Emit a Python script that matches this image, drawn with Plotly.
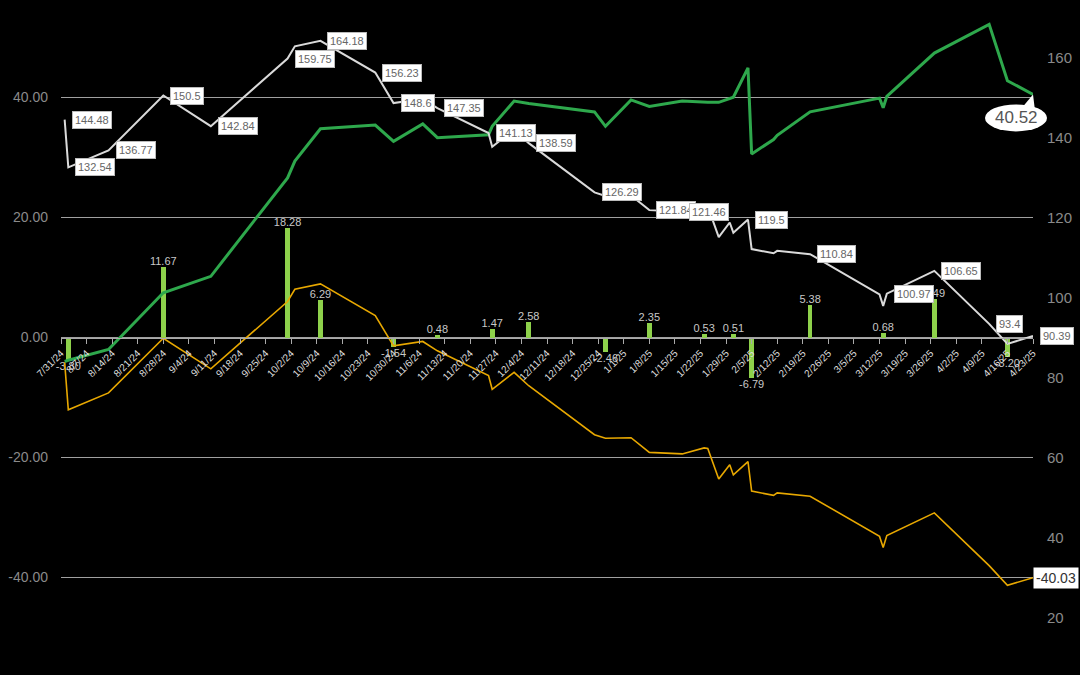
import plotly.graph_objects as go
import pandas as pd

# ---------------- data ----------------
dates = ["2024-08-01", "2024-08-02", "2024-08-13", "2024-08-28", "2024-09-10",
         "2024-10-01", "2024-10-03", "2024-10-10", "2024-10-25", "2024-10-30",
         "2024-11-07", "2024-11-11", "2024-11-25", "2024-11-26", "2024-12-02",
         "2024-12-06", "2024-12-24", "2024-12-27", "2025-01-03", "2025-01-08",
         "2025-01-17", "2025-01-23", "2025-01-24", "2025-01-27", "2025-01-30",
         "2025-01-31", "2025-02-04", "2025-02-05", "2025-02-11", "2025-02-12",
         "2025-02-21", "2025-03-12", "2025-03-13", "2025-03-14", "2025-03-27",
         "2025-04-11", "2025-04-16", "2025-04-23"]

price = [144.48, 132.54, 136.77, 150.5, 142.84, 159.75, 162.8, 164.18, 156.23, 148.6,
         149.7, 147.35, 141.13, 137.7, 141.96, 138.59, 126.29, 125.4, 125.5, 121.84,
         121.46, 122.97, 122.8, 115.1, 118.75, 116.2, 119.5, 112.1, 111.07, 111.67,
         110.84, 100.75, 97.9, 100.97, 106.65, 93.4, 88.4, 90.39]

cumulative = [-4.0, -3.8, -2.0, 7.45, 10.2, 26.6, 29.4, 34.8, 35.4, 32.7,
              35.6, 33.3, 33.8, 35.2, 39.4, 39.0, 37.6, 35.2, 39.6, 38.5,
              39.4, 39.2, 39.2, 39.2, 39.8, 40.05, 44.95, 30.6, 33.0, 33.7,
              37.6, 39.9, 38.3, 40.2, 47.4, 52.2, 42.8, 40.52]

drawdown = [-4.13, -12.05, -9.24, -0.13, -5.22, 6.0, 8.03, 8.94, 3.67, -1.39,
            -0.66, -2.22, -6.35, -8.63, -5.80, -8.04, -16.2, -16.8, -16.7, -19.15,
            -19.4, -18.4, -18.51, -23.6, -21.2, -22.9, -20.7, -25.6, -26.3, -25.9,
            -26.45, -33.15, -35.0, -33.0, -29.23, -38.02, -41.3, -40.03]

bar_dates = ["2024-08-02", "2024-08-28", "2024-10-01", "2024-10-10", "2024-10-30",
             "2024-11-11", "2024-11-26", "2024-12-06", "2024-12-27", "2025-01-08",
             "2025-01-23", "2025-01-31", "2025-02-05", "2025-02-21", "2025-03-13",
             "2025-03-27", "2025-04-16"]
bar_values = [-3.80, 11.67, 18.28, 6.29, -1.54, 0.48, 1.47, 2.58, -2.46, 2.35,
              0.53, 0.51, -6.79, 5.38, 0.68, 6.49, -3.20]

price_label_idx = [0, 1, 2, 3, 4, 5, 7, 8, 9, 11, 12, 15, 16, 19, 20, 26, 30, 33, 34, 35, 37]

tick_labels = ["7/31/24", "8/7/24", "8/14/24", "8/21/24", "8/28/24", "9/4/24", "9/11/24",
               "9/18/24", "9/25/24", "10/2/24", "10/9/24", "10/16/24", "10/23/24",
               "10/30/24", "11/6/24", "11/13/24", "11/20/24", "11/27/24", "12/4/24",
               "12/11/24", "12/18/24", "12/25/24", "1/1/25", "1/8/25", "1/15/25",
               "1/22/25", "1/29/25", "2/5/25", "2/12/25", "2/19/25", "2/26/25",
               "3/5/25", "3/12/25", "3/19/25", "3/26/25", "4/2/25", "4/9/25",
               "4/16/25", "4/23/25"]
left_ticks = [-40, -20, 0, 20, 40]
right_ticks = [20, 40, 60, 80, 100, 120, 140, 160]

# ---------------- figure ----------------
FONT = "Liberation Sans, Arial, sans-serif"
tick_vals = pd.to_datetime(tick_labels, format="%m/%d/%y")
DAY_MS = 86400000

fig = go.Figure()

fig.add_trace(go.Bar(
    x=bar_dates, y=bar_values, width=1.3 * DAY_MS,
    marker=dict(color="#8ED14B", line=dict(width=0)),
    text=[f"{v:.2f}" for v in bar_values], textposition="outside", textangle=0,
    constraintext="none",
    textfont=dict(color="#c8c8c8", size=11, family=FONT),
    cliponaxis=False, yaxis="y", showlegend=False, hoverinfo="skip"))

fig.add_trace(go.Scatter(
    x=dates, y=drawdown, mode="lines", line=dict(color="#E8A800", width=1.6),
    yaxis="y", showlegend=False, hoverinfo="skip"))

fig.add_trace(go.Scatter(
    x=dates, y=price, mode="lines", line=dict(color="#DADADA", width=2),
    yaxis="y2", showlegend=False, hoverinfo="skip"))

fig.add_trace(go.Scatter(
    x=dates, y=cumulative, mode="lines", line=dict(color="#2EA84C", width=3),
    yaxis="y", showlegend=False, hoverinfo="skip"))

annotations = []
for i in price_label_idx:
    annotations.append(dict(
        x=dates[i], y=price[i], xref="x", yref="y2", text=f"{price[i]:g}",
        showarrow=False, xanchor="left", yanchor="middle", xshift=7,
        font=dict(size=11, color="#666666", family=FONT),
        bgcolor="white", bordercolor="#bbbbbb", borderwidth=1, borderpad=2))

# final drawdown value box
annotations.append(dict(
    x=dates[-1], y=drawdown[-1], xref="x", yref="y", text=f"{drawdown[-1]:.2f}",
    showarrow=False, xanchor="left", yanchor="middle", xshift=0,
    font=dict(size=14, color="#333333", family=FONT),
    bgcolor="white", borderpad=2))

# final cumulative value bubble (anchored at the right edge of the plot = last date)
annotations.append(dict(
    x=1, y=cumulative[-1], xref="paper", yref="y", text=f"{cumulative[-1]:.2f}",
    showarrow=False, xanchor="center", yanchor="middle", xshift=-17, yshift=-23,
    font=dict(size=17, color="#555555", family=FONT)))

shapes = [
    dict(type="circle", xref="paper", yref="y", xsizemode="pixel", ysizemode="pixel",
         xanchor=1, yanchor=cumulative[-1], x0=-48, x1=14, y0=-37, y1=-10,
         fillcolor="white", line=dict(width=0), layer="above"),
    dict(type="path", xref="paper", yref="y", xsizemode="pixel", ysizemode="pixel",
         xanchor=1, yanchor=cumulative[-1],
         path="M -10 -12 L 0 0 L 2 -16 Z",
         fillcolor="white", line=dict(width=0), layer="above"),
]

fig.update_layout(
    width=1080, height=675,
    margin=dict(l=61, r=47, t=0, b=0),
    paper_bgcolor="black", plot_bgcolor="black",
    font=dict(family=FONT),
    bargap=0,
    showlegend=False,
    hovermode=False,
    annotations=annotations,
    shapes=shapes,
    xaxis=dict(
        type="date", range=["2024-07-31", "2025-04-23"],
        anchor="free", position=0.5,
        tickvals=tick_vals, ticktext=tick_labels, tickangle=-45,
        tickfont=dict(size=10, color="#dddddd", family=FONT),
        ticks="outside", ticklen=5, tickcolor="#aaaaaa",
        showline=True, linecolor="#aaaaaa", linewidth=1,
        showgrid=False, zeroline=False),
    yaxis=dict(
        range=[-56.25, 56.25], tickvals=left_ticks,
        ticktext=[f"{v:.2f}" for v in left_ticks],
        tickfont=dict(size=14, color="#8a8a8a", family=FONT),
        showgrid=True, gridcolor="#a0a0a0", gridwidth=1,
        zeroline=True, zerolinecolor="#a0a0a0", zerolinewidth=1,
        ticks="", ticklabelstandoff=12, showline=False),
    yaxis2=dict(
        range=[5.625, 174.375], overlaying="y", side="right", anchor="x",
        tickvals=right_ticks,
        tickfont=dict(size=15, color="#8a8a8a", family=FONT),
        showgrid=False, zeroline=False, ticks="", ticklabelstandoff=13,
        showline=False),
)

fig.write_html(
    "out.html",
    config={"displayModeBar": False, "staticPlot": True},
    post_script="document.body.style.margin='0';document.body.style.background='black';document.body.style.overflow='hidden';",
)
